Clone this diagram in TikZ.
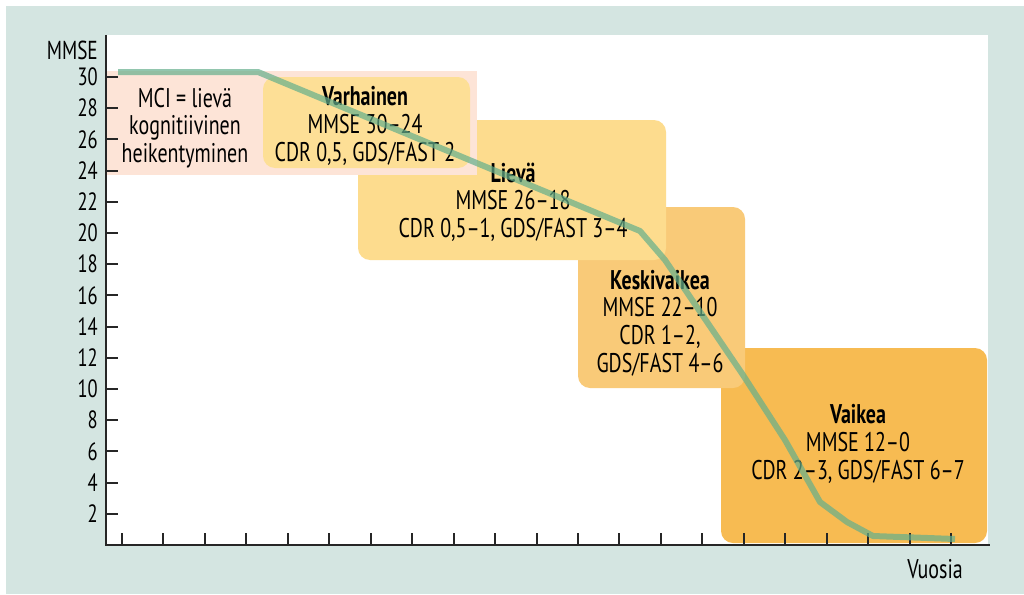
\documentclass[tikz,border=0pt]{standalone}
\usepackage{fontspec}
\setmainfont{PT Sans}[FakeStretch=0.74]
\usepackage{tikz}
\usetikzlibrary{positioning}
\definecolor{panelgreen}{RGB}{212,229,225}
\definecolor{mcicol}{RGB}{253,228,215}
\definecolor{varhcol}{RGB}{253,223,150}
\definecolor{lievacol}{RGB}{253,220,142}
\definecolor{keskicol}{RGB}{249,202,120}
\definecolor{vaikeacol}{RGB}{247,187,82}
\definecolor{coursecol}{RGB}{100,175,140}

\begin{document}
\begin{tikzpicture}[x=1pt,y=-1pt]
\tikzstyle{stage} = [align=center, font=\fontsize{27}{27.6}\selectfont, inner sep=0pt]
\tikzstyle{ylab} = [anchor=east, font=\fontsize{25}{25}\selectfont, inner sep=0pt]
\tikzstyle{axis} = [line width=2pt, black!85]
\tikzstyle{course} = [line width=6pt, coursecol, opacity=0.7, line join=round]
\useasboundingbox (0,0) rectangle (1024,594);
\fill[panelgreen] (6,6) rectangle (1024,594);
\fill[white] (105,35) rectangle (988,545);
% stages, back to front
\fill[vaikeacol, rounded corners=12pt] (721,348) rectangle (987,543);
\fill[keskicol, rounded corners=12pt] (578,207) rectangle (745,388);
\fill[lievacol, rounded corners=12pt] (358,120) rectangle (666,260);
\fill[mcicol] (106,71) rectangle (477,175);
\fill[varhcol, rounded corners=12pt] (263,77) rectangle (470,168);
\node [stage] (mci) at (185,128) {MCI = lievä\\kognitiivinen\\heikentyminen};
\node [stage] (varhainen) at (365,126) {\textbf{Varhainen}\\MMSE 30–24\\CDR 0,5, GDS/FAST 2};
\node [stage] (lieva) at (513,202) {\textbf{Lievä}\\MMSE 26–18\\CDR 0,5–1, GDS/FAST 3–4};
\node [stage] (keski) at (660,323) {\textbf{Keskivaikea}\\MMSE 22–10\\CDR 1–2,\\GDS/FAST 4–6};
\node [stage] (vaikea) at (858,444) {\textbf{Vaikea}\\MMSE 12–0\\CDR 2–3, GDS/FAST 6–7};
% axes
\draw [axis] (106,35) -- (106,545) -- (990,545);
\foreach \v in {2,4,...,30} {
  \draw [axis] (106,{545-15.6*\v}) -- ++(12,0);
  \node [ylab] (y\v) at (98,{545-15.6*\v}) {\v};
}
\foreach \k in {0,...,20}
  \draw [axis] ({122+41.45*\k},545) -- ++(0,-12);
\node [ylab, font=\fontsize{26}{26}\selectfont] (mmse) at (98,50) {MMSE};
\node [stage] (vuosia) at (935,569) {Vuosia};
% MMSE course
\draw [course] (118,72) -- (258,72) -- (640,231) -- (665,260) -- (743,375) -- (785,440)
  -- (820,502) -- (847,522) -- (873,536) -- (955,539);
\end{tikzpicture}
\end{document}
